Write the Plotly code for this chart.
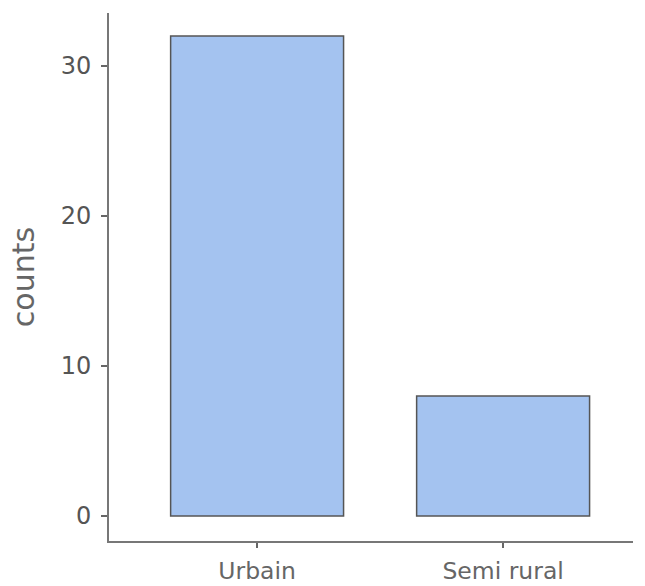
import plotly.graph_objects as go

categories = ["Urbain", "Semi rural"]
counts = [32, 8]
y_ticks = [0, 10, 20, 30]

fig = go.Figure(go.Bar(
    x=categories, y=counts, width=0.703,
    marker=dict(color="#a4c3f0", line=dict(color="#555555", width=1.5)),
))

fig.update_layout(
    width=645, height=586,
    margin=dict(l=109, r=12, t=13, b=45),
    paper_bgcolor="white", plot_bgcolor="white",
    font=dict(family="DejaVu Sans", color="#555555", size=24),
    showlegend=False,
)
fig.update_xaxes(
    range=[-0.602, 1.528], showline=True, linecolor="#777777", linewidth=2,
    ticks="outside", ticklen=5, tickwidth=2, tickcolor="#666666",
    showgrid=False, zeroline=False, ticklabelstandoff=3, automargin=False,
    tickfont=dict(size=23.5, color="#666666"),
)
fig.update_yaxes(
    range=[-1.67, 33.53], tickvals=y_ticks, showline=True, linecolor="#777777", linewidth=2,
    ticks="outside", ticklen=6, tickwidth=2, tickcolor="#666666",
    showgrid=False, zeroline=False, ticklabelstandoff=5, automargin=False,
    tickfont=dict(size=24, color="#555555"),
    title=dict(text="counts", font=dict(size=30, color="#666666"), standoff=17),
)

fig.write_html(
    "out.html",
    config={"displayModeBar": False},
    post_script="document.body.style.margin='0px';document.body.style.overflow='hidden';",
)
